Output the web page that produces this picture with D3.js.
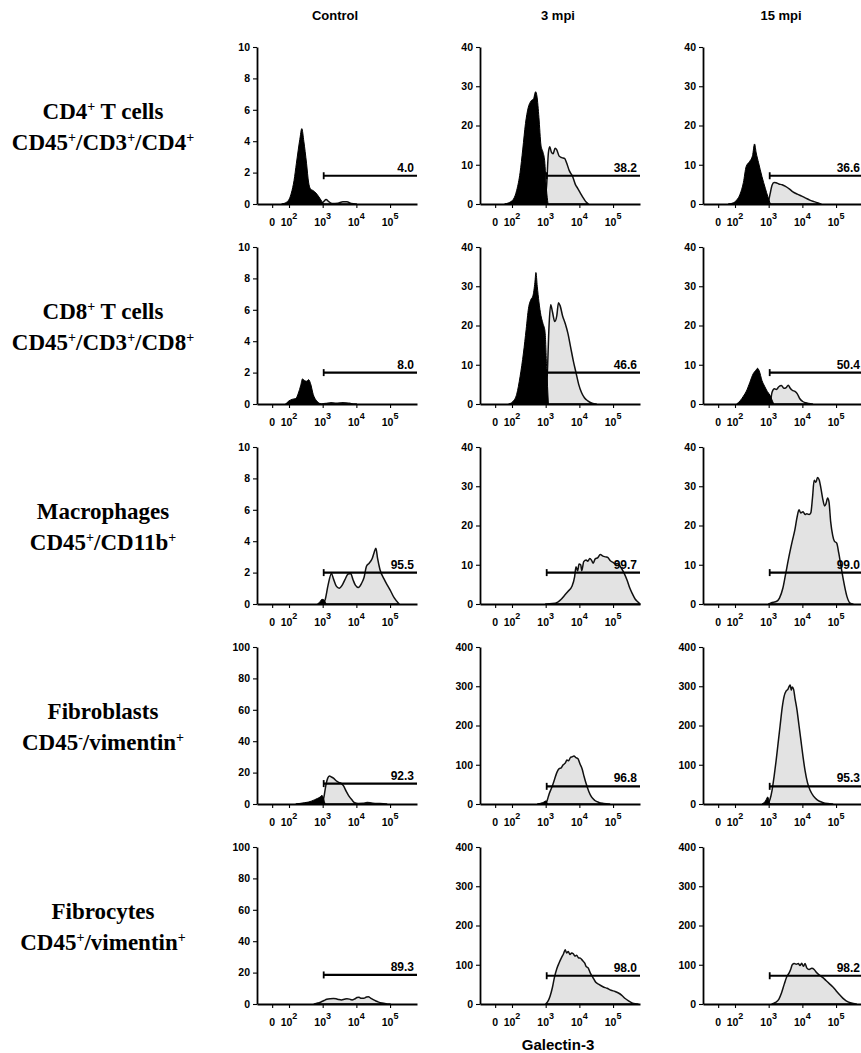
<!DOCTYPE html>
<html>
<head>
<meta charset="utf-8">
<script src="https://cdn.jsdelivr.net/npm/d3@7"></script>
<style>
  body { margin: 0; background: #fff; }
  svg text { fill: #000; }
</style>
</head>
<body>
<div id="chart"></div>
<script>
// columns and rows of the figure
var timepoints = ["Control", "3 mpi", "15 mpi"];
var populations = ["CD4+ T cells", "CD8+ T cells", "Macrophages", "Fibroblasts", "Fibrocytes"];
var markers = ["CD45+/CD3+/CD4+", "CD45+/CD3+/CD8+", "CD45+/CD11b+", "CD45-/vimentin+", "CD45+/vimentin+"];

// y axis max (count) for every panel, row by row
var yMax = [[10, 40, 40], [10, 40, 40], [10, 40, 40], [100, 400, 400], [100, 400, 400]];
var yStep = { 10: 2, 40: 10, 100: 20, 400: 100 };

// x ticks, in log10 display units ("0" sits half a decade below 10^2)
var xTickPos = [1.5, 2, 3, 4, 5];
var xTickLabels = [["0", ""], ["10", "2"], ["10", "3"], ["10", "4"], ["10", "5"]];

// gate: start (log units), height (counts) and % positive
var gateFrom = 3.03;
var gateLevel = [[1.8, 7.2, 7.2], [2, 8, 8], [2, 8, 8], [13, 45, 45], [18.5, 72, 72]];
var gatePct = [["4.0", "38.2", "36.6"], ["8.0", "46.6", "50.4"], ["95.5", "99.7", "99.0"], ["92.3", "96.8", "95.3"], ["89.3", "98.0", "98.2"]];

// histograms: [log10 Galectin-3, count]; Neg = black part, Pos = grey part
var cd4Neg = [
  [[1.78,0],[1.95,0.15],[2.07,0.7],[2.15,1.5],[2.22,2.6],[2.32,4.1],[2.38,4.8],[2.44,4.0],[2.52,2.6],[2.58,1.4],[2.64,0.95],[2.72,0.85],[2.8,0.7],[2.92,0.35],[3.02,0]],
  [[1.78,0],[1.9,0.3],[2.04,1.2],[2.14,3.5],[2.24,8],[2.32,14],[2.4,20.5],[2.48,24.5],[2.56,26.2],[2.64,26.8],[2.7,28.6],[2.74,27.5],[2.8,22],[2.86,15],[2.92,13.2],[2.97,11],[3.02,4],[3.07,0]],
  [[1.8,0],[1.95,0.3],[2.05,1],[2.15,2.5],[2.25,5.5],[2.33,9.5],[2.43,10.8],[2.52,12.3],[2.58,15.3],[2.63,13],[2.7,10.5],[2.8,7],[2.9,4],[2.97,2],[3.05,0]]
];
var cd4Pos = [
  [[2.95,0],[3.03,0.15],[3.1,0.28],[3.18,0.15],[3.28,0.03],[3.45,0.05],[3.6,0.14],[3.72,0.14],[3.85,0.03],[4.0,0]],
  [[2.97,0],[3.03,5],[3.08,13],[3.12,14.6],[3.17,13.2],[3.22,12.8],[3.28,14.2],[3.33,13.8],[3.4,12.2],[3.48,11.8],[3.56,11.6],[3.62,10.5],[3.7,8.5],[3.8,7],[3.88,5],[3.95,4],[4.03,2.8],[4.12,1.5],[4.2,0.5],[4.27,0]],
  [[2.98,0],[3.04,2.5],[3.1,4.8],[3.16,5.5],[3.22,5.4],[3.3,5.1],[3.4,4.9],[3.5,4.5],[3.62,3.8],[3.72,3.1],[3.85,2.5],[3.98,2.0],[4.1,1.5],[4.22,1.0],[4.35,0.6],[4.45,0.3],[4.55,0]]
];
var cd8Neg = [
  [[1.9,0],[2.0,0.2],[2.1,0.3],[2.2,0.35],[2.28,0.7],[2.35,1.2],[2.4,1.6],[2.46,1.5],[2.52,1.45],[2.58,1.55],[2.64,1.3],[2.72,0.6],[2.82,0.2],[2.95,0]],
  [[1.9,0],[2.02,0.6],[2.14,2.5],[2.24,7],[2.34,13],[2.42,19],[2.49,24.4],[2.56,26.6],[2.62,27.5],[2.68,31],[2.71,33.5],[2.75,30],[2.8,26],[2.86,22.5],[2.92,20.5],[2.98,18.5],[3.03,9],[3.08,0]],
  [[2.05,0],[2.15,0.8],[2.25,2],[2.34,3.3],[2.44,5.5],[2.54,7.7],[2.62,8.6],[2.67,9.1],[2.72,8.4],[2.8,6],[2.88,4.5],[2.96,3.2],[3.04,2.2],[3.1,1],[3.15,0]]
];
var cd8Pos = [
  [[2.95,0],[3.1,0.04],[3.25,0.08],[3.4,0.04],[3.6,0.08],[3.72,0.07],[3.85,0.02],[4.0,0]],
  [[3.0,0],[3.05,8],[3.1,20],[3.15,25.3],[3.2,23.5],[3.27,21],[3.33,22.5],[3.38,25.8],[3.43,25],[3.5,22.5],[3.58,20.5],[3.66,18],[3.74,14.5],[3.82,11],[3.9,8],[3.98,5],[4.06,3],[4.15,1.6],[4.25,0.8],[4.38,0.2],[4.5,0]],
  [[3.05,0],[3.1,3],[3.17,3.9],[3.23,3.7],[3.3,4.4],[3.38,4.7],[3.45,4.0],[3.52,4.2],[3.58,4.8],[3.64,4.0],[3.7,3.5],[3.78,3.2],[3.85,2.6],[3.92,1.4],[4.0,0.7],[4.1,0.3],[4.3,0]]
];
var macNeg = [
  [[2.85,0],[2.92,0.15],[2.98,0.3],[3.04,0.25],[3.1,0]],
  [],
  []
];
var macPos = [
  [[3.0,0],[3.07,0.25],[3.16,1.2],[3.26,1.95],[3.32,1.6],[3.4,1.15],[3.49,1.0],[3.58,1.2],[3.66,1.55],[3.75,1.9],[3.83,1.95],[3.9,1.55],[3.97,1.2],[4.06,1.05],[4.15,1.3],[4.23,1.7],[4.3,2.4],[4.38,2.6],[4.47,2.9],[4.53,3.3],[4.58,3.55],[4.63,2.9],[4.7,2.2],[4.82,1.6],[4.92,1.2],[5.0,0.9],[5.12,0.4],[5.27,0]],
  [[3.0,0],[3.2,0.1],[3.36,0.5],[3.46,1.2],[3.54,2],[3.66,3.2],[3.78,4.5],[3.86,7],[3.9,9.5],[3.95,8.5],[3.99,10.2],[4.04,10],[4.07,8.5],[4.13,10.8],[4.2,11.2],[4.25,10.9],[4.31,11.6],[4.37,11],[4.41,10.4],[4.47,11.5],[4.55,11.8],[4.62,12.6],[4.7,12.2],[4.78,12],[4.85,11.8],[4.92,11],[5.0,10.6],[5.06,10.2],[5.14,10.3],[5.22,9.5],[5.32,8],[5.42,6],[5.5,4],[5.58,2.5],[5.66,1.2],[5.74,0.5],[5.8,0]],
  [[3.0,0],[3.07,0.3],[3.24,0.7],[3.32,1.5],[3.42,4],[3.5,7.5],[3.6,12],[3.7,16],[3.78,19],[3.84,22],[3.9,24],[3.95,23.2],[4.02,23.5],[4.08,22.8],[4.13,23],[4.2,22.8],[4.25,23.2],[4.3,27],[4.35,31.5],[4.4,31],[4.45,32.2],[4.5,31.6],[4.55,29.5],[4.6,27],[4.66,25],[4.7,25.5],[4.75,27],[4.79,26],[4.84,21],[4.9,17.5],[4.95,16],[5.02,15.5],[5.08,13],[5.14,10],[5.22,6],[5.32,2],[5.42,0.2],[5.5,0]]
];
var fibNeg = [
  [[2.2,0],[2.33,0.4],[2.45,0.8],[2.57,1.2],[2.66,1.8],[2.75,2.6],[2.84,3.5],[2.92,4.4],[2.98,5.5],[3.03,3],[3.07,0]],
  [[2.75,0],[2.85,2],[2.95,5],[3.01,8],[3.05,0]],
  [[2.8,0],[2.86,3],[2.92,10],[2.97,18],[3.02,4],[3.04,0]]
];
var fibPos = [
  [[3.0,0],[3.05,6],[3.1,12.5],[3.15,16.5],[3.2,17.8],[3.26,17.2],[3.32,16.5],[3.4,14.8],[3.48,13.8],[3.56,13],[3.62,11.5],[3.7,8],[3.78,5],[3.86,2.8],[3.95,0.8],[4.05,0.3],[4.2,0.4],[4.32,0.9],[4.45,0.6],[4.6,0.3],[4.8,0.2],[4.9,0]],
  [[2.98,0],[3.04,8],[3.1,25],[3.18,42],[3.26,62],[3.33,80],[3.4,90],[3.46,92],[3.52,100],[3.58,104],[3.63,112],[3.68,110],[3.73,118],[3.78,120],[3.84,122],[3.9,118],[3.96,115],[4.02,102],[4.08,90],[4.14,70],[4.2,52],[4.28,32],[4.36,18],[4.46,9],[4.58,4],[4.72,1.5],[4.9,0]],
  [[2.98,0],[3.04,12],[3.1,35],[3.16,70],[3.22,110],[3.28,155],[3.34,200],[3.4,245],[3.46,275],[3.52,288],[3.57,292],[3.61,300],[3.64,303],[3.67,290],[3.7,298],[3.74,292],[3.78,270],[3.84,240],[3.9,200],[3.96,160],[4.02,120],[4.08,85],[4.15,55],[4.23,35],[4.33,20],[4.45,10],[4.6,4],[4.75,1],[4.9,0]]
];
var fibroNeg = [[], [], []];
var fibroPos = [
  [[2.75,0],[2.85,0.6],[2.95,1.3],[3.04,2.2],[3.12,3],[3.22,3.4],[3.32,3.5],[3.4,3.3],[3.48,2.8],[3.56,2.6],[3.64,3.0],[3.72,3.4],[3.8,3.1],[3.87,2.6],[3.95,3.2],[4.02,4.1],[4.08,4.3],[4.14,3.6],[4.22,3.6],[4.3,4.4],[4.36,4.6],[4.42,3.8],[4.5,2.8],[4.58,1.9],[4.66,1.2],[4.76,0.6],[4.88,0.2],[5.0,0]],
  [[3.0,0],[3.06,6],[3.13,20],[3.2,42],[3.26,68],[3.33,90],[3.4,105],[3.47,118],[3.53,128],[3.58,138],[3.62,130],[3.67,134],[3.72,126],[3.77,130],[3.82,128],[3.87,122],[3.92,124],[3.97,118],[4.03,117],[4.1,110],[4.16,104],[4.2,96],[4.26,92],[4.32,80],[4.4,68],[4.48,56],[4.58,50],[4.7,44],[4.82,40],[4.94,35],[5.06,32],[5.16,28],[5.26,22],[5.36,14],[5.46,8],[5.56,3],[5.66,0.5],[5.74,0]],
  [[3.1,0],[3.2,4],[3.3,12],[3.38,28],[3.46,50],[3.54,70],[3.6,78],[3.66,90],[3.7,100],[3.76,103],[3.82,101],[3.88,103],[3.93,98],[3.98,104],[4.03,96],[4.08,103],[4.13,92],[4.2,88],[4.28,91],[4.35,88],[4.42,80],[4.5,74],[4.6,68],[4.7,60],[4.8,52],[4.9,44],[5.0,34],[5.1,24],[5.2,15],[5.3,8],[5.42,3],[5.52,1],[5.6,0]]
];

var negRows = [cd4Neg, cd8Neg, macNeg, fibNeg, fibroNeg];
var posRows = [cd4Pos, cd8Pos, macPos, fibPos, fibroPos];

// layout
var width = 861, height = 1053;
var colX = [257, 480, 703];
var plotW = 160;
var plotTop = 47, plotBottom = 204, rowStep = 200;
var xDomain = [1.05, 5.8];

var svg = d3.select("#chart").append("svg")
  .attr("width", width)
  .attr("height", height)
  .style("font-family", "'Liberation Sans', Arial, sans-serif");

// writes "CD45+/CD3+" style text with + and - raised
function richText(sel, str, supSize) {
  var parts = str.split(/([+-])/);
  var raised = false;
  parts.forEach(function(p) {
    if (p === "") return;
    if (p === "+" || p === "-") {
      sel.append("tspan").attr("dy", -supSize * 0.6).style("font-size", supSize + "px").text(p);
      raised = true;
    } else {
      var t = sel.append("tspan").text(p);
      if (raised) { t.attr("dy", supSize * 0.6); raised = false; }
    }
  });
}

// column headers
timepoints.forEach(function(t, c) {
  svg.append("text")
    .attr("x", colX[c] + plotW / 2 - 2)
    .attr("y", 20)
    .attr("text-anchor", "middle")
    .style("font-size", "13px")
    .style("font-weight", "bold")
    .text(t);
});

// row labels
populations.forEach(function(p, r) {
  var g = svg.append("g").style("font-family", "'Liberation Serif', 'Times New Roman', serif")
    .style("font-weight", "bold").style("font-size", "23px");
  richText(g.append("text").attr("x", 103).attr("y", 119 + r * rowStep).attr("text-anchor", "middle"), p, 14);
  richText(g.append("text").attr("x", 103).attr("y", 150 + r * rowStep).attr("text-anchor", "middle"), markers[r], 14);
});

// minor x ticks: 2..9 x 10^k plus a few in the linear part
var xMinor = [1.2, 1.35, 1.65, 1.8];
[2, 3, 4, 5].forEach(function(k) {
  d3.range(2, 10).forEach(function(m) {
    var v = k + Math.log10(m);
    if (v < xDomain[1]) xMinor.push(v);
  });
});

function histArea(x, y) {
  return d3.area()
    .x(function(d) { return x(d[0]); })
    .y0(y(0))
    .y1(function(d) { return y(d[1]); })
    .curve(d3.curveMonotoneX);
}

for (var r = 0; r < populations.length; r++) {
  for (var c = 0; c < timepoints.length; c++) {
    var yTop = plotTop + r * rowStep, yBottom = plotBottom + r * rowStep;
    var x = d3.scaleLinear().domain(xDomain).range([colX[c], colX[c] + plotW]);
    var y = d3.scaleLinear().domain([0, yMax[r][c]]).range([yBottom, yTop]);
    var panel = svg.append("g").attr("class", "panel");

    // grey (gate positive) histogram, then black one
    if (posRows[r][c].length) {
      panel.append("path")
        .datum(posRows[r][c])
        .attr("d", histArea(x, y))
        .style("fill", "#e3e3e3")
        .style("stroke", "#111")
        .style("stroke-width", 1.5)
        .style("stroke-linejoin", "round");
    }
    if (negRows[r][c].length) {
      panel.append("path")
        .datum(negRows[r][c])
        .attr("d", histArea(x, y))
        .style("fill", "#000")
        .style("stroke", "#000")
        .style("stroke-width", 1);
    }

    // y axis
    var step = yStep[yMax[r][c]];
    var yAxis = panel.append("g").attr("transform", "translate(" + colX[c] + ",0)");
    yAxis.call(d3.axisLeft(y).tickValues(d3.range(0, yMax[r][c], step / 5)).tickSize(2).tickSizeOuter(0).tickFormat(""));
    yAxis.call(d3.axisLeft(y).tickValues(d3.range(0, yMax[r][c] + step / 2, step)).tickSize(4).tickSizeOuter(0).tickPadding(3));
    yAxis.selectAll("text").style("font-size", "10.5px").style("font-weight", "bold").style("font-family", "'Liberation Sans', Arial, sans-serif");

    // x axis
    var xAxis = panel.append("g").attr("transform", "translate(0," + yBottom + ")");
    xAxis.call(d3.axisBottom(x).tickValues(xMinor).tickSize(2).tickSizeOuter(0).tickFormat(""));
    xAxis.call(d3.axisBottom(x).tickValues(xTickPos).tickSize(4).tickSizeOuter(0).tickFormat(""));
    xTickPos.forEach(function(v, i) {
      var t = xAxis.append("text")
        .attr("x", x(v))
        .attr("y", 22)
        .attr("text-anchor", "middle")
        .style("font-size", "10.5px")
        .style("font-weight", "bold");
      t.append("tspan").text(xTickLabels[i][0]);
      if (xTickLabels[i][1]) {
        t.append("tspan").attr("dy", -7).style("font-size", "9px").text(xTickLabels[i][1]);
      }
    });

    panel.selectAll(".domain").style("stroke", "#000").style("stroke-width", 1.8);
    panel.selectAll(".tick line").style("stroke", "#000").style("stroke-width", 1.1);

    // gate marker
    var gy = y(gateLevel[r][c]);
    panel.append("line")
      .attr("x1", x(gateFrom)).attr("x2", x(xDomain[1]))
      .attr("y1", gy).attr("y2", gy)
      .style("stroke", "#000").style("stroke-width", 2.2);
    panel.append("line")
      .attr("x1", x(gateFrom)).attr("x2", x(gateFrom))
      .attr("y1", gy - 3.5).attr("y2", gy + 3.5)
      .style("stroke", "#000").style("stroke-width", 1.8);
    panel.append("text")
      .attr("x", x(xDomain[1]) - 3)
      .attr("y", gy - 4)
      .attr("text-anchor", "end")
      .style("font-family", "'Liberation Sans Narrow', 'Liberation Sans', Arial, sans-serif")
      .style("font-size", "12px")
      .style("font-weight", "bold")
      .text(gatePct[r][c]);
  }
}

// shared x axis title
svg.append("text")
  .attr("x", colX[1] + plotW / 2 - 2)
  .attr("y", 1050)
  .attr("text-anchor", "middle")
  .style("font-size", "15px")
  .style("font-weight", "bold")
  .text("Galectin-3");
</script>
</body>
</html>
